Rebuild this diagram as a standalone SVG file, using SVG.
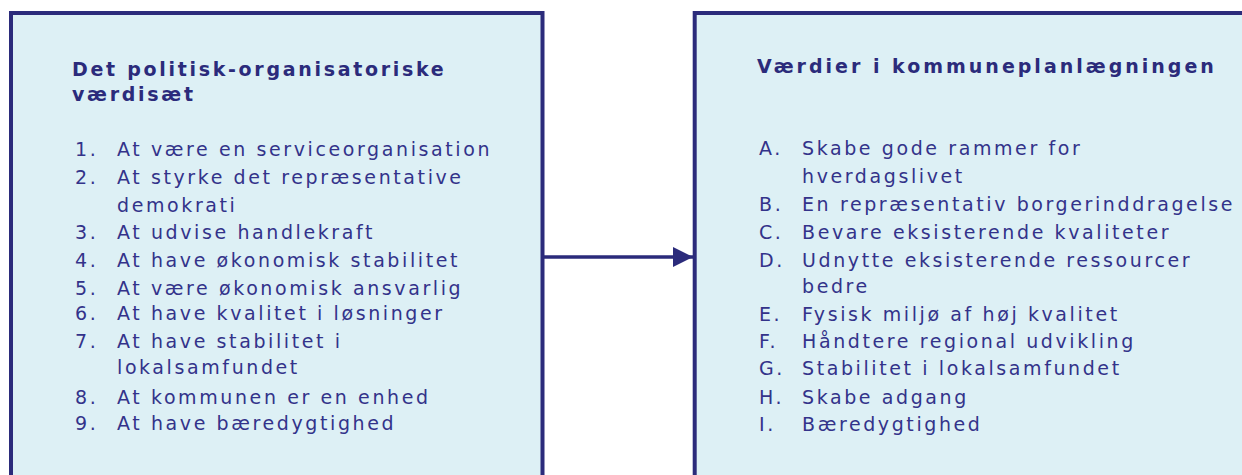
<svg xmlns="http://www.w3.org/2000/svg" width="1242" height="475" viewBox="0 0 1242 475">
<defs>
<style>
.box{fill:#ddf0f5;stroke:#2b2b7b;stroke-width:4}
.t{font-family:"DejaVu Sans",Verdana,sans-serif;font-size:19px;fill:#33338a;letter-spacing:2.6px}
.h{font-family:"DejaVu Sans",Verdana,sans-serif;font-size:19px;font-weight:bold;fill:#2b2b7b;letter-spacing:2.7px}
.h2{letter-spacing:3px}
.conn{stroke:#2b2b7b;stroke-width:3.5;fill:none}
</style>
<marker id="arr" markerWidth="20" markerHeight="20" refX="20" refY="10" orient="auto" markerUnits="userSpaceOnUse">
<path d="M0,0 L20,10 L0,20 Z" fill="#2b2b7b"/>
</marker>
</defs>
<rect width="1242" height="475" fill="#ffffff"/>
<g id="left">
<rect class="box" x="11" y="13" width="531.5" height="500"/>
<text class="h" x="72" y="76">Det politisk-organisatoriske</text>
<text class="h" x="72" y="101">værdisæt</text>
<text class="t" x="75" y="156">1.</text><text class="t" x="117" y="156">At være en serviceorganisation</text>
<text class="t" x="75" y="184">2.</text><text class="t" x="117" y="184">At styrke det repræsentative</text>
<text class="t" x="117" y="212">demokrati</text>
<text class="t" x="75" y="239">3.</text><text class="t" x="117" y="239">At udvise handlekraft</text>
<text class="t" x="75" y="267">4.</text><text class="t" x="117" y="267">At have økonomisk stabilitet</text>
<text class="t" x="75" y="295">5.</text><text class="t" x="117" y="295">At være økonomisk ansvarlig</text>
<text class="t" x="75" y="320">6.</text><text class="t" x="117" y="320">At have kvalitet i løsninger</text>
<text class="t" x="75" y="348">7.</text><text class="t" x="117" y="348">At have stabilitet i</text>
<text class="t" x="117" y="374">lokalsamfundet</text>
<text class="t" x="75" y="404">8.</text><text class="t" x="117" y="404">At kommunen er en enhed</text>
<text class="t" x="75" y="430">9.</text><text class="t" x="117" y="430">At have bæredygtighed</text>
</g>
<g id="right">
<rect class="box" x="694.7" y="13" width="600" height="500"/>
<text class="h h2" x="757" y="73">Værdier i kommuneplanlægningen</text>
<text class="t" x="759" y="155">A.</text><text class="t" x="802" y="155">Skabe gode rammer for</text>
<text class="t" x="802" y="183">hverdagslivet</text>
<text class="t" x="759" y="211">B.</text><text class="t" x="802" y="211">En repræsentativ borgerinddragelse</text>
<text class="t" x="759" y="239">C.</text><text class="t" x="802" y="239">Bevare eksisterende kvaliteter</text>
<text class="t" x="759" y="267">D.</text><text class="t" x="802" y="267">Udnytte eksisterende ressourcer</text>
<text class="t" x="802" y="293">bedre</text>
<text class="t" x="759" y="321">E.</text><text class="t" x="802" y="321">Fysisk miljø af høj kvalitet</text>
<text class="t" x="759" y="348">F.</text><text class="t" x="802" y="348">Håndtere regional udvikling</text>
<text class="t" x="759" y="375">G.</text><text class="t" x="802" y="375">Stabilitet i lokalsamfundet</text>
<text class="t" x="759" y="404">H.</text><text class="t" x="802" y="404">Skabe adgang</text>
<text class="t" x="759" y="431">I.</text><text class="t" x="802" y="431">Bæredygtighed</text>
</g>
<g id="connectors">
<line class="conn" x1="544" y1="257" x2="693" y2="257" marker-end="url(#arr)"/>
</g>
</svg>
